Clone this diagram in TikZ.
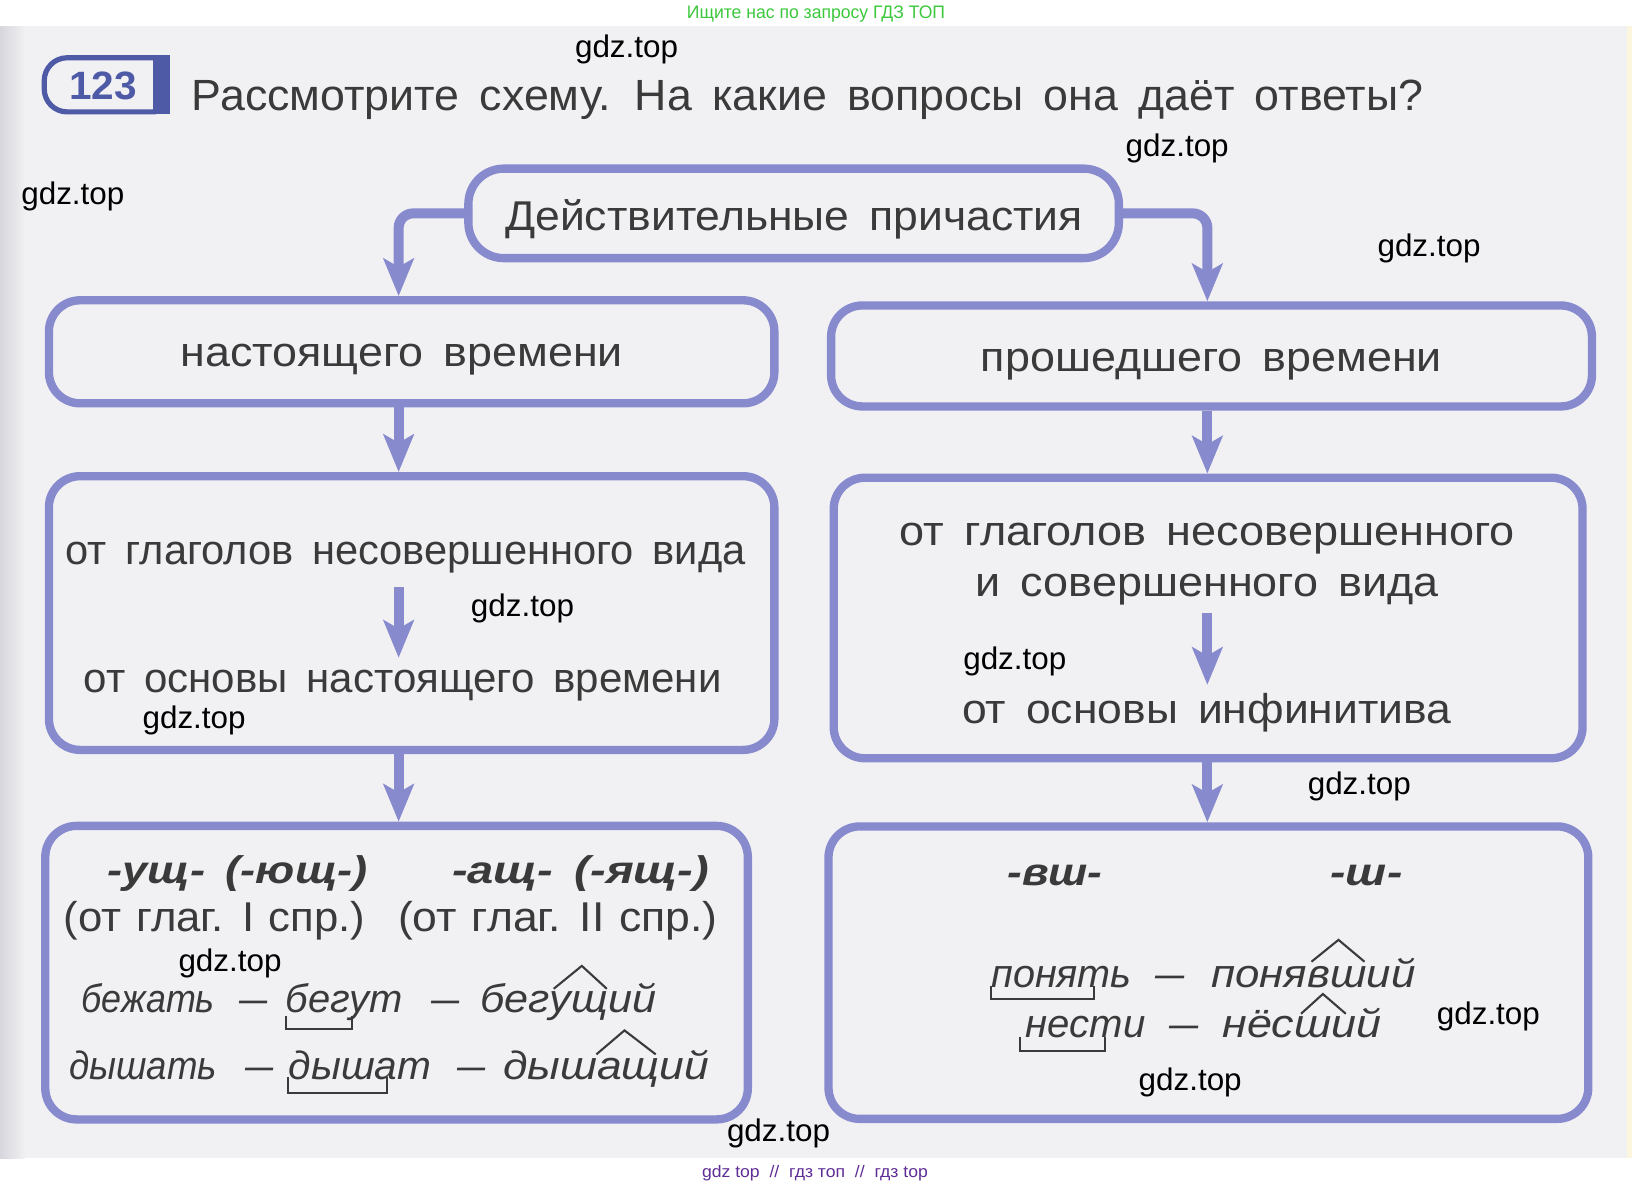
\documentclass[tikz,border=0pt]{standalone}
\usepackage{fontspec}
\setmainfont{Liberation Sans}
\usepackage{graphicx}
\usetikzlibrary{arrows.meta,fit}
\definecolor{frame}{RGB}{136,138,206}
\definecolor{ink}{RGB}{58,58,58}
\definecolor{paper}{RGB}{241,241,244}
\definecolor{paperedge}{RGB}{214,214,220}
\definecolor{paperyellow}{RGB}{252,246,222}
\definecolor{badgeblue}{RGB}{78,90,165}
\definecolor{wmgreen}{RGB}{60,200,60}
\definecolor{wmpurple}{RGB}{95,45,150}
\newsavebox\fitbox
\newlength\fitlen
\newcommand\fitto[3][0.45em]{\sbox\fitbox{\spaceskip=#1\relax #3}\setlength\fitlen{\wd\fitbox}\pgfmathsetmacro\fitr{#2*0.5/\fitlen}\scalebox{\fitr}[1]{\usebox\fitbox}}
\tikzset{
  box/.style={draw=frame, line width=4pt, rounded corners=15pt, inner sep=0pt},
  conn/.style={draw=frame, line width=4.8pt, rounded corners=7pt, -{Stealth[length=18pt,width=14.5pt,inset=4pt]}},
  txt/.style={inner sep=0pt, text=ink, anchor=base west},
  big/.style={txt, font=\fontsize{20}{24}\selectfont},
  ttl/.style={txt, font=\fontsize{21}{25}\selectfont},
  sfx/.style={txt, font=\fontsize{18.5}{22}\selectfont\bfseries\itshape},
  ex/.style={txt, font=\fontsize{19}{23}\selectfont\itshape},
  wm/.style={inner sep=0pt, anchor=base, text=black, font=\fontsize{15}{18}\selectfont},
  morph/.style={draw=ink, line width=1pt},
}
\begin{document}
\begin{tikzpicture}[x=0.5pt,y=-0.5pt]
\useasboundingbox (0,0) rectangle (1568,1140.5);
% page
\fill[white] (0,0) rectangle (1568,1140.5);
\fill[paper] (0,25) rectangle (1563,1113);
\shade[left color=paperedge, right color=paper] (0,25) rectangle (24,1113);
\fill[paperyellow] (1563,25) rectangle (1568,1113);
% top and bottom site texts
\node[inner sep=0pt, anchor=base, text=wmgreen, font=\fontsize{8.7}{10}\selectfont] (site1) at (784,17.5) {\fitto[0pt]{248}{Ищите нас по запросу ГДЗ ТОП}};
\node[inner sep=0pt, anchor=base, text=wmpurple, font=\fontsize{8}{10}\selectfont] (site2) at (783,1131) {\fitto[0pt]{217}{gdz top\ \ //\ \ гдз топ\ \ //\ \ гдз top}};
% badge
\draw[badgeblue, line width=2.5pt, rounded corners=11pt] (150,55.5) -- (42.5,55.5) -- (42.5,107.5) -- (150,107.5);
\fill[badgeblue] (147,53) rectangle (163,110);
\node[inner sep=0pt, anchor=base west, text=badgeblue, font=\fontsize{19}{22}\selectfont\bfseries] (num) at (66,96) {\fitto{65}{123}};
% title
\node[ttl] (title) at (184,106) {\fitto{1183}{Рассмотрите схему. На какие вопросы она даёт ответы?}};
% boxes
\node[box, rounded corners=17pt, fit={(450,162) (1075,248)}] (top) {};
\node[box, fit={(47,288.5) (744,387.5)}] (b1) {};
\node[box, fit={(798.5,293.5) (1529.5,390.5)}] (b2) {};
\node[box, fit={(47,457.5) (744,720.5)}] (b3) {};
\node[box, fit={(801,459) (1520.5,728.5)}] (b4) {};
\node[box, fit={(43.5,793.5) (718.5,1075.5)}] (b5) {};
\node[box, fit={(796,794) (1526,1075)}] (b6) {};
% box texts
\node[big] (ttop) at (485,221) {\fitto{555}{Действительные причастия}};
\node[big] (t1) at (173,352) {\fitto{425}{настоящего времени}};
\node[big] (t2) at (942,357) {\fitto{443}{прошедшего времени}};
\node[big] (t3a) at (62.5,542) {\fitto{653.5}{от глаголов несовершенного вида}};
\node[big] (t3b) at (80,665) {\fitto{613}{от основы настоящего времени}};
\node[big] (t4a) at (864,524) {\fitto{591}{от глаголов несовершенного}};
\node[big] (t4b) at (937,573.5) {\fitto{445}{и совершенного вида}};
\node[big] (t4c) at (924,695) {\fitto{470}{от основы инфинитива}};
% suffix labels
\node[sfx] (s1) at (103,849) {\fitto{250}{-ущ- (-ющ-)}};
\node[sfx] (s2) at (434,849) {\fitto{247}{-ащ- (-ящ-)}};
\node[big] (c1) at (61,895) {\fitto[0.33em]{289.5}{(от глаг. I спр.)}};
\node[big] (c2) at (382,895) {\fitto[0.33em]{307}{(от глаг. II спр.)}};
\node[sfx] (s3) at (967.5,850.5) {\fitto{91.5}{-вш-}};
\node[sfx] (s4) at (1278,850.5) {\fitto{69}{-ш-}};
% examples, left
\node[ex] (e1a) at (78,973) {\fitto{128}{бежать}};
\node[ex] (e1b) at (230,973) {\fitto{27}{—}};
\node[ex] (e1c) at (274,973) {\fitto{113}{бегут}};
\node[ex] (e1d) at (414,973) {\fitto{27}{—}};
\node[ex] (e1e) at (461,973) {\fitto{169}{бегущий}};
\node[ex] (e2a) at (66,1037) {\fitto{142}{дышать}};
\node[ex] (e2b) at (235,1037) {\fitto{27}{—}};
\node[ex] (e2c) at (277,1037) {\fitto{137}{дышат}};
\node[ex] (e2d) at (439,1037) {\fitto{27}{—}};
\node[ex] (e2e) at (483,1037) {\fitto{198}{дышащий}};
% examples, right
\node[ex] (e3a) at (952,948.5) {\fitto{135}{понять}};
\node[ex] (e3b) at (1110,948.5) {\fitto{28}{—}};
\node[ex] (e3c) at (1163.5,948.5) {\fitto{196}{понявший}};
\node[ex] (e4a) at (985,996.5) {\fitto{115}{нести}};
\node[ex] (e4b) at (1123,996.5) {\fitto{28}{—}};
\node[ex] (e4c) at (1174,996.5) {\fitto{153}{нёсший}};
% morpheme marks
\draw[morph] (275,976) -- (275,989) -- (338,989) -- (338,976);
\draw[morph] (532,950) -- (559,928) -- (583,950);
\draw[morph] (277,1035) -- (277,1050) -- (372,1050) -- (372,1035);
\draw[morph] (573,1013) -- (600,990) -- (630,1013);
\draw[morph] (952,947) -- (952,960) -- (1051,960) -- (1051,947);
\draw[morph] (1260,924) -- (1286,903) -- (1311,924);
\draw[morph] (980,996) -- (980,1010) -- (1062,1010) -- (1062,996);
\draw[morph] (1250,974) -- (1271,955) -- (1293,974);
% connector coordinates
\coordinate (lx) at (383,0);
\coordinate (rx) at (1160,0);
\coordinate (ia1) at (383,564);
\coordinate (ib1) at (383,632);
\coordinate (ia2) at (1160,589);
\coordinate (ib2) at (1160,658);
% connectors
\draw[conn] (top.west) -| (lx |- b1.north);
\draw[conn] (top.east) -| (rx |- b2.north);
\draw[conn] (lx |- b1.south) -- (lx |- b3.north);
\draw[conn] (rx |- b2.south) -- (rx |- b4.north);
\draw[conn] (ia1) -- (ib1);
\draw[conn] (ia2) -- (ib2);
\draw[conn] (lx |- b3.south) -- (lx |- b5.north);
\draw[conn] (rx |- b4.south) -- (rx |- b6.north);
% watermarks
\node[wm] (w1) at (602,55) {\fitto{99}{gdz.top}};
\node[wm] (w2) at (1131,150) {\fitto{99}{gdz.top}};
\node[wm] (w3) at (70,196) {\fitto{99}{gdz.top}};
\node[wm] (w4) at (1373,246) {\fitto{99}{gdz.top}};
\node[wm] (w5) at (502,592) {\fitto{99}{gdz.top}};
\node[wm] (w6) at (186.5,700) {\fitto{99}{gdz.top}};
\node[wm] (w7) at (975,643) {\fitto{99}{gdz.top}};
\node[wm] (w8) at (1306,763) {\fitto{99}{gdz.top}};
\node[wm] (w9) at (221,933) {\fitto{99}{gdz.top}};
\node[wm] (w10) at (1430,984) {\fitto{99}{gdz.top}};
\node[wm] (w11) at (1143.5,1048) {\fitto{99}{gdz.top}};
\node[wm] (w12) at (748,1097) {\fitto{99}{gdz.top}};
\end{tikzpicture}
\end{document}
